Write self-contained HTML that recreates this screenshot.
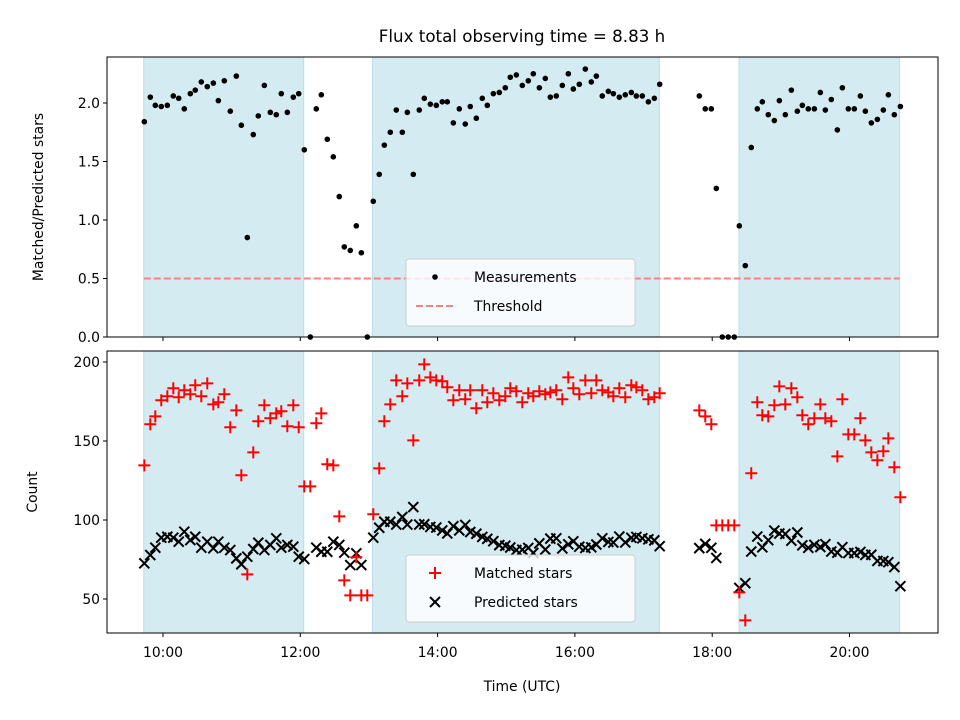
<!DOCTYPE html>
<html><head><meta charset="utf-8">
<style>
body{margin:0;background:#fff;}
svg{display:block;font-family:"DejaVu Sans","Liberation Sans",sans-serif;}
</style></head>
<body>
<svg id="chart" width="960" height="720" viewBox="0 0 960 720" xmlns="http://www.w3.org/2000/svg">
<rect width="960" height="720" fill="#fff"/>
<text x="522" y="42" font-size="16.7" text-anchor="middle">Flux total observing time = 8.83 h</text>
<g id="topPanel"></g>
<g id="botPanel"></g>
<text transform="translate(43,197) rotate(-90)" font-size="13.9" text-anchor="middle">Matched/Predicted stars</text>
<text transform="translate(37,492) rotate(-90)" font-size="13.9" text-anchor="middle">Count</text>
<text x="522" y="691" font-size="13.9" text-anchor="middle">Time (UTC)</text>
</svg>
<script>
const times=[9.728,9.815,9.888,9.975,10.063,10.150,10.229,10.310,10.398,10.470,10.558,10.645,10.733,10.806,10.893,10.980,11.068,11.141,11.228,11.315,11.388,11.476,11.563,11.650,11.723,11.811,11.898,11.977,12.058,12.146,12.233,12.306,12.393,12.481,12.568,12.641,12.728,12.816,12.889,12.976,13.063,13.150,13.224,13.311,
13.398,13.486,13.559,13.646,13.733,13.806,13.894,13.981,14.068,14.141,14.229,14.316,14.403,14.476,14.564,14.651,14.724,14.812,14.899,14.986,15.059,15.147,15.234,15.321,15.394,15.482,15.569,15.642,15.729,15.817,15.904,15.977,16.064,16.152,16.239,16.312,16.399,16.487,16.560,16.647,16.734,16.822,16.895,16.982,17.070,17.157,17.235,
17.812,17.899,17.987,18.060,18.147,18.234,18.322,18.395,18.482,18.569,18.657,18.730,18.817,18.905,18.978,19.065,19.153,19.240,19.313,19.400,19.488,19.575,19.648,19.735,19.823,19.896,19.983,20.070,20.158,20.231,20.318,20.406,20.493,20.566,20.653,20.741];
const ratio=[1.84,2.05,1.98,1.97,1.98,2.06,2.04,1.95,2.08,2.11,2.18,2.14,2.17,2.02,2.19,1.93,2.23,1.81,0.85,1.73,1.89,2.15,1.92,1.90,2.08,1.92,2.05,2.08,1.60,0.00,1.95,2.07,1.69,1.54,1.20,0.77,0.74,0.95,0.72,0.00,1.16,1.39,1.64,1.75,
1.94,1.75,1.92,1.39,1.94,2.04,1.99,1.98,2.01,2.01,1.83,1.95,1.82,1.97,1.87,2.04,1.98,2.08,2.09,2.13,2.22,2.24,2.15,2.19,2.25,2.13,2.21,2.05,2.06,2.15,2.25,2.12,2.16,2.29,2.18,2.23,2.06,2.10,2.08,2.05,2.07,2.09,2.06,2.06,2.01,2.04,2.16,
2.06,1.95,1.95,1.27,0,0,0,0.95,0.61,1.62,1.95,2.01,1.90,1.85,2.02,1.90,2.11,1.93,1.98,1.95,1.95,2.09,1.94,2.03,1.77,2.13,1.95,1.95,2.06,1.93,1.83,1.86,1.94,2.07,1.90,1.97];
const matched=[134.6,160.6,165.6,175.8,178.3,183.4,177.7,182.1,179.6,185.3,178.3,186.5,173.2,174.5,179.6,158.7,169.4,128.3,65.6,142.8,162.5,172.6,164.4,167.5,168.8,159.3,172.6,158.7,121.3,121.3,161.2,167.5,135.3,134.6,102.3,61.8,52.3,76.4,52.3,52.3,103.6,132.7,162.5,173.2,
188.4,178.3,186.5,150.4,188.4,198.5,190.3,188.4,187.8,184,175.8,182.1,176.4,182.1,170.7,182.1,174.5,180.2,175.8,178.3,183.4,181.5,174.5,180.2,178.3,181.5,179.6,180.8,182.1,176.4,190.3,183.4,179.6,188.4,180.2,188.4,182.1,180.8,178.3,183.4,177.7,185.3,184,182.1,176.4,177.7,180.2,
169.4,165.6,160.6,96.6,96.6,96.6,96.6,54.2,36.5,129.6,174.5,166.3,165.6,172.6,184.6,173.2,183.4,177.7,166.3,160.6,164.4,173.2,164.4,162.5,140.3,176.4,154.2,154.2,164.4,150.4,142.8,137.8,143.5,151.7,133.4,114.4];
const predicted=[72.6,77.8,82.5,88.8,89.4,88.8,86.3,92.6,87.3,89.4,82.5,86.3,82.1,86.3,82.5,81,75.7,72,76.8,81.6,85.6,81,84.2,88.4,82.5,84.2,83.1,76.8,75.3,null,82.5,79.9,79.9,86.3,84.2,79.3,71.5,78.9,71.5,null,88.8,95.1,98.9,98.9,
97.1,101.9,97.1,108.2,97.1,97.3,95.6,95.2,93.4,91.5,96.1,93.4,96.9,92.4,91.3,89.3,88.1,86.6,84.1,83.7,82.6,81,81.2,82.3,79.2,85.2,81.3,88.2,88.4,82,84.6,86.5,83.1,82.3,82.7,84.5,88.4,86.1,85.7,89.5,85.8,88.7,89.3,88.4,87.8,87.1,83.4,
82.2,84.9,82.4,76,null,null,null,57,60,80,89.5,82.7,87.2,93.3,91.4,91.2,86.9,92.1,84,82.4,84.3,82.9,84.7,80,79.3,82.8,79.1,79.1,79.8,77.9,78,74.1,74,73.3,70.2,58.1];
const spanStart=[9.72,13.05,18.39];
const spanEnd=[12.05,17.23,20.73];
const threshold=0.5;
const xTickHours=[10,12,14,16,18,20];
const xTickLabels=["10:00","12:00","14:00","16:00","18:00","20:00"];
const ratioTicks=[0,0.5,1.0,1.5,2.0];
const countTicks=[50,100,150,200];

const NS="http://www.w3.org/2000/svg";
const L=107,R=938;
const X=h=>163+(h-10)*68.65;
const Yt=v=>337-v*117;
const Yb=c=>599-(c-50)*1.58;
function mk(p,tag,at){const e=document.createElementNS(NS,tag);for(const k in at)e.setAttribute(k,at[k]);p.appendChild(e);return e;}
const topG=document.getElementById('topPanel'),botG=document.getElementById('botPanel');

function panel(g,y0,y1,prefix){
  for(let i=0;i<spanStart.length;i++){
    const r=mk(g,'rect',{x:X(spanStart[i]),y:y0,width:X(spanEnd[i])-X(spanStart[i]),height:y1-y0,fill:'#d5ebf2',stroke:'#bcdde8','stroke-width':1});
    
    
  }
}
panel(topG,57,337,'ratio');
panel(botG,351,633,'count');

const th=mk(topG,'line',{x1:X(spanStart[0]),x2:X(spanEnd[2]),y1:Yt(threshold),y2:Yt(threshold),stroke:'#ff7f7f','stroke-width':2,'stroke-dasharray':'7,3'});



for(let i=0;i<times.length;i++){
  if(ratio[i]==null)continue;
  const c=mk(topG,'circle',{cx:X(times[i]),cy:Yt(ratio[i]),r:2.8,fill:'#000'});
  
  
}
for(let i=0;i<times.length;i++){
  if(predicted[i]!=null){
    const x=X(times[i]),y=Yb(predicted[i]),s=5;
    const p=mk(botG,'path',{d:`M${x-s},${y-s}L${x+s},${y+s}M${x-s},${y+s}L${x+s},${y-s}`,stroke:'#000','stroke-width':2,fill:'none'});
    
    
  }
}
for(let i=0;i<times.length;i++){
  if(matched[i]!=null){
    const x=X(times[i]),y=Yb(matched[i]),s=6;
    const p=mk(botG,'path',{d:`M${x-s},${y}L${x+s},${y}M${x},${y-s}L${x},${y+s}`,stroke:'#f00','stroke-width':2,fill:'none'});
    
    
  }
}
mk(topG,'rect',{x:L,y:57,width:R-L,height:280,fill:'none',stroke:'#000','stroke-width':1});
mk(botG,'rect',{x:0,y:633.5,width:960,height:40,fill:'#fff'});
mk(botG,'rect',{x:L,y:351,width:R-L,height:282,fill:'none',stroke:'#000','stroke-width':1});

for(let i=0;i<xTickHours.length;i++){
  const x=X(xTickHours[i]);
  mk(topG,'line',{x1:x,x2:x,y1:337,y2:341,stroke:'#000'});
  mk(botG,'line',{x1:x,x2:x,y1:633,y2:637,stroke:'#000'});
  const t=mk(botG,'text',{x:x,y:657,'font-size':13.9,'text-anchor':'middle'});
  t.textContent=xTickLabels[i];
  
  
}
for(const v of ratioTicks){
  const y=Yt(v);
  mk(topG,'line',{x1:L-4,x2:L,y1:y,y2:y,stroke:'#000'});
  const t=mk(topG,'text',{x:L-7,y:y+5,'font-size':13.9,'text-anchor':'end'});
  t.textContent=v.toFixed(1);
  
  
}
for(const v of countTicks){
  const y=Yb(v);
  mk(botG,'line',{x1:L-4,x2:L,y1:y,y2:y,stroke:'#000'});
  const t=mk(botG,'text',{x:L-7,y:y+5,'font-size':13.9,'text-anchor':'end'});
  t.textContent=String(v);
  
  
}

function legend(g,y,items,name){
  const lg=mk(g,'g',{});
  
  
  mk(lg,'rect',{x:406,y:y,width:229,height:67,rx:3,fill:'rgba(255,255,255,0.8)',stroke:'#ccc'});
  items.forEach((it,k)=>{
    const cy=y+18+k*29, cx=435;
    if(it.type==='dot') mk(lg,'circle',{cx:cx,cy:cy,r:2.8,fill:'#000'});
    if(it.type==='dash') mk(lg,'line',{x1:416,x2:454,y1:cy,y2:cy,stroke:'#ff7f7f','stroke-width':2,'stroke-dasharray':'7,3'});
    if(it.type==='plus') mk(lg,'path',{d:`M${cx-6},${cy}L${cx+6},${cy}M${cx},${cy-6}L${cx},${cy+6}`,stroke:'#f00','stroke-width':2});
    if(it.type==='x') mk(lg,'path',{d:`M${cx-5},${cy-5}L${cx+5},${cy+5}M${cx-5},${cy+5}L${cx+5},${cy-5}`,stroke:'#000','stroke-width':2});
    const t=mk(lg,'text',{x:474,y:cy+5,'font-size':13.9});
    t.textContent=it.label;
    
    
  });
}
legend(topG,259,[{type:'dot',label:'Measurements'},{type:'dash',label:'Threshold'}],'ratio-legend');
legend(botG,555,[{type:'plus',label:'Matched stars'},{type:'x',label:'Predicted stars'}],'count-legend');
</script>
</body></html>
